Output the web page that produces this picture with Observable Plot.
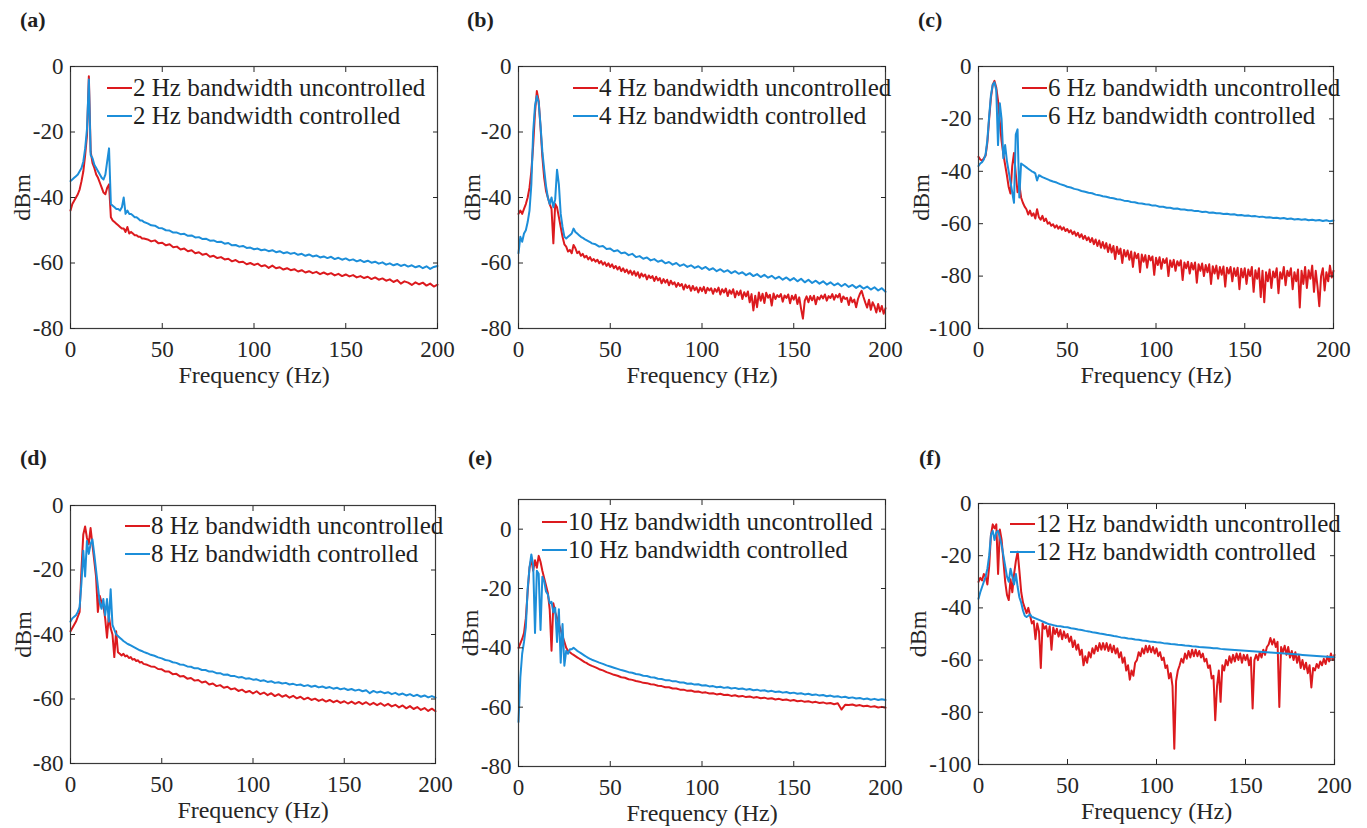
<!DOCTYPE html>
<html>
<head>
<meta charset="utf-8">
<script src="https://cdn.jsdelivr.net/npm/d3@7"></script>
<script src="https://cdn.jsdelivr.net/npm/@observablehq/plot@0.6"></script>
<style>
  body { margin: 0; background: #fff; }
  #fig { position: relative; width: 1367px; height: 828px; overflow: hidden; background: #fff;
         font-family: "Liberation Serif", "Times New Roman", serif; color: #1f1f1f; }
  .tag { position: absolute; font-weight: bold; font-size: 22px; line-height: 22px; }
  .legend { position: absolute; font-size: 25px; }
  .legend .row { display: flex; align-items: center; height: 28px; white-space: nowrap; }
  .legend .sw { display: inline-block; width: 25px; height: 0; border-top: 2.5px solid; margin-right: 1px; }
</style>
</head>
<body>
<div id="fig"></div>
<script>
// ---------- frequency grids (Hz) ----------
const freqLow = [0,1,2,3,4,5,6,7,8,9,10,11,12,13,14,15,16,17,18,19,20,21,22,23,24,25,26,27,28,29,30,31,32,33,34,35,36,37,38,39,40];
const freqTail2 = [42,44,46,48,50,52,54,56,58,60,62,64,66,68,70,72,74,76,78,80,82,84,86,88,90,92,94,96,98,100,102,104,106,108,110,112,114,116,118,120,122,124,126,128,130,132,134,136,138,140,142,144,146,148,150,152,154,156,158,160,162,164,166,168,170,172,174,176,178,180,182,184,186,188,190,192,194,196,198,200];
const freqTail1 = [41,42,43,44,45,46,47,48,49,50,51,52,53,54,55,56,57,58,59,60,61,62,63,64,65,66,67,68,69,70,71,72,73,74,75,76,77,78,79,80,81,82,83,84,85,86,87,88,89,90,91,92,93,94,95,96,97,98,99,100,101,102,103,104,105,106,107,108,109,110,111,112,113,114,115,116,117,118,119,120,121,122,123,124,125,126,127,128,129,130,131,132,133,134,135,136,137,138,139,140,141,142,143,144,145,146,147,148,149,150,151,152,153,154,155,156,157,158,159,160,161,162,163,164,165,166,167,168,169,170,171,172,173,174,175,176,177,178,179,180,181,182,183,184,185,186,187,188,189,190,191,192,193,194,195,196,197,198,199,200];

const xTicks = [0, 50, 100, 150, 200];
const yTicks80 = [-80, -60, -40, -20, 0];
const yTicks100 = [-100, -80, -60, -40, -20, 0];

// ---------- (a) 2 Hz bandwidth ----------
const aRedLow = [-44,-42,-41,-40,-39,-37.5,-35,-32,-27,-21,-3,-26,-29.5,-31,-33,-34,-35.5,-37,-38.5,-39,-37,-36,-46,-47,-47.5,-48,-48.5,-49,-49.5,-49.5,-50.5,-49,-51,-50.5,-51,-51.5,-51.5,-52,-52,-52.5,-52.5];
const aRedTail = [-52.8,-53.4,-53.1,-54.0,-53.8,-54.6,-54.3,-55.2,-55.0,-55.9,-55.6,-56.4,-56.1,-57.0,-56.7,-57.5,-57.2,-58.1,-57.8,-58.5,-58.2,-58.9,-58.7,-59.5,-59.1,-59.8,-59.6,-60.4,-60.0,-60.6,-60.2,-61.0,-60.7,-61.5,-60.8,-61.6,-61.3,-62.0,-61.6,-62.2,-61.9,-62.6,-62.2,-62.9,-62.5,-63.1,-62.7,-63.4,-62.9,-63.5,-63.1,-63.8,-63.3,-64.0,-63.5,-64.1,-63.7,-64.4,-64.0,-64.6,-64.2,-64.9,-64.4,-65.1,-64.7,-65.4,-65.0,-65.8,-65.2,-66.3,-65.6,-66.0,-66.7,-65.9,-66.5,-66.0,-66.9,-66.3,-67.2,-66.6];
const aBlueLow = [-35,-34.5,-34,-33.5,-33,-32,-31,-29,-25,-19,-4,-27,-28,-30,-31,-32,-33,-34,-34.5,-33,-29,-25,-42,-42.5,-43,-43.5,-43.5,-44,-43,-40,-45,-44,-45,-45,-45.5,-46,-46,-46.5,-47,-47,-47.5];
const aBlueTail = [-47.9,-48.5,-48.6,-49.3,-49.4,-50.0,-50.1,-50.7,-50.7,-51.2,-51.1,-51.7,-51.6,-52.2,-52.1,-52.7,-52.6,-53.2,-53.1,-53.6,-53.5,-54.1,-53.9,-54.6,-54.5,-55.0,-54.8,-55.4,-55.3,-55.8,-55.6,-56.1,-55.9,-56.4,-56.1,-56.7,-56.4,-57.0,-56.7,-57.2,-56.9,-57.5,-57.2,-57.8,-57.4,-58.0,-57.7,-58.3,-58.0,-58.5,-58.1,-58.8,-58.4,-59.0,-58.6,-59.2,-58.9,-59.5,-59.1,-59.7,-59.3,-59.9,-59.6,-60.2,-59.8,-60.5,-60.1,-60.7,-60.3,-60.9,-60.5,-61.1,-60.7,-61.3,-60.9,-61.6,-61.0,-61.8,-61.2,-60.9];

// ---------- (b) 4 Hz bandwidth ----------
const bRedLow = [-45,-44,-45,-43.5,-42,-40,-37,-32,-24,-14,-7.5,-10.5,-18.5,-27.5,-34,-38,-40,-42,-43.5,-54,-42,-43,-46,-49,-52,-54.3,-55,-56.5,-56,-57,-54.5,-55.5,-57,-56.5,-57.8,-57.2,-58.3,-57.8,-58.9,-58.2,-59.3];
const bRedTail = [-58.8,-59.6,-59.0,-60.1,-59.4,-60.5,-59.8,-60.9,-60.1,-61.2,-60.4,-61.6,-60.9,-62.0,-61.2,-62.5,-61.6,-62.8,-62.0,-63.2,-62.3,-63.6,-62.5,-63.9,-62.8,-64.5,-63.2,-64.1,-63.5,-65.0,-63.8,-64.6,-64.0,-65.5,-64.2,-65.3,-64.6,-66.2,-64.9,-66.0,-65.1,-66.8,-65.4,-66.5,-65.9,-67.3,-66.1,-67.0,-66.4,-68.1,-66.6,-67.6,-66.9,-68.5,-67.0,-68.3,-67.4,-69.0,-67.5,-68.6,-67.3,-69.2,-67.6,-68.4,-67.7,-69.4,-67.9,-68.8,-67.5,-69.6,-68.0,-69.0,-67.8,-70.1,-68.3,-69.4,-68.0,-70.5,-68.6,-69.8,-68.4,-71.0,-68.9,-70.2,-68.7,-72.0,-69.5,-74.5,-70.0,-73.5,-69.0,-71.5,-69.4,-72.2,-69.1,-70.6,-69.7,-73.0,-69.3,-71.0,-69.8,-70.4,-69.5,-71.8,-69.9,-70.7,-69.6,-72.3,-70.0,-71.2,-69.7,-72.5,-70.5,-74.0,-77.0,-71.5,-70.2,-72.0,-70.1,-71.4,-70.0,-72.6,-70.4,-71.1,-69.9,-70.8,-69.6,-71.5,-70.1,-70.7,-69.5,-71.2,-69.8,-70.5,-69.4,-71.9,-70.2,-71.0,-70.6,-72.8,-70.5,-72.0,-71.2,-73.5,-71.0,-69.5,-68.5,-70.4,-72.1,-73.6,-71.2,-74.3,-72.0,-73.2,-75.1,-72.5,-74.8,-73.1,-75.5,-73.8];
const bBlueLow = [-57,-52,-53.5,-51,-50,-47.5,-44,-36,-20,-12,-9,-11,-18,-26,-31.5,-36.5,-40,-42,-40,-43,-40.5,-31.5,-36,-45,-49,-52,-52.5,-52,-51.5,-51,-49.5,-50.5,-51,-51.5,-52,-52.3,-52.7,-53,-53.3,-53.6,-54];
const bBlueTail = [-54.3,-55.0,-54.8,-55.7,-55.6,-56.4,-56.1,-57.0,-56.8,-57.6,-57.2,-58.2,-57.9,-58.7,-58.3,-59.2,-58.8,-59.6,-59.2,-60.1,-59.7,-60.5,-60.0,-60.9,-60.4,-61.2,-60.7,-61.5,-61.0,-61.8,-61.2,-62.1,-61.6,-62.5,-61.9,-62.7,-62.2,-63.1,-62.5,-63.3,-62.8,-63.7,-63.1,-64.0,-63.4,-64.3,-63.6,-64.5,-63.9,-64.8,-64.2,-65.1,-64.4,-65.3,-64.6,-65.6,-64.8,-65.9,-65.1,-66.1,-65.4,-66.3,-65.6,-66.6,-65.9,-66.8,-66.2,-67.1,-66.4,-67.3,-66.7,-67.6,-66.9,-67.8,-67.2,-68.1,-67.4,-68.4,-67.7,-68.8];

// ---------- (c) 6 Hz bandwidth ----------
const cRedLow = [-34.5,-35.5,-36,-35,-34,-29,-20,-12,-7,-5.5,-8,-13,-21,-28.5,-33.5,-37.5,-41.5,-46,-48.5,-38,-33,-41,-48,-45,-50,-52,-53.5,-54.5,-56.5,-55,-57,-56,-58,-54.5,-57.5,-58.5,-57,-59,-58,-60,-59.5];
const cRedTail = [-60.8,-60.2,-61.5,-60.6,-61.9,-61.0,-62.3,-61.4,-62.8,-62.0,-63.3,-62.5,-64.0,-63.0,-64.6,-63.5,-65.2,-64.0,-65.8,-64.6,-66.3,-65.2,-67.0,-65.5,-67.8,-66.0,-68.5,-66.4,-69.2,-67.0,-69.5,-67.4,-70.8,-67.9,-71.0,-68.5,-73.5,-68.8,-71.6,-69.5,-75.0,-70.0,-72.5,-70.2,-73.8,-70.6,-76.5,-71.0,-73.2,-71.5,-78.5,-71.8,-74.5,-72.0,-76.8,-72.2,-74.0,-72.5,-79.5,-73.0,-75.8,-72.8,-77.2,-73.5,-75.0,-73.2,-80.0,-74.0,-76.5,-73.8,-78.0,-74.3,-76.0,-74.0,-81.5,-74.8,-77.0,-74.5,-79.0,-75.0,-77.5,-74.8,-82.5,-75.5,-78.0,-75.2,-80.0,-75.8,-78.5,-75.5,-83.0,-76.2,-79.0,-76.0,-81.0,-76.5,-79.5,-76.3,-84.0,-76.8,-79.0,-76.5,-82.0,-77.0,-80.0,-76.8,-85.0,-77.2,-80.5,-77.0,-83.0,-77.5,-80.0,-76.5,-86.0,-77.8,-81.0,-77.0,-88.0,-78.0,-90.0,-78.5,-82.0,-77.5,-84.5,-78.2,-80.5,-77.0,-86.5,-78.5,-81.0,-76.5,-83.5,-78.0,-80.0,-77.0,-85.0,-78.5,-82.0,-77.5,-92.0,-78.0,-83.0,-76.5,-84.5,-77.8,-81.0,-76.0,-86.0,-78.0,-84.0,-91.5,-80.0,-77.0,-85.5,-78.5,-82.0,-76.0,-80.5,-78.0];
const cBlueLow = [-38,-37,-36.5,-35.5,-33.5,-28,-19,-11,-7,-6,-9,-30,-14,-20,-35,-30,-36,-40,-44,-48,-52,-26,-24,-50,-37,-37.5,-38,-38.5,-39,-39.5,-40,-40.3,-40.8,-43.5,-41.5,-41.8,-42.2,-42.5,-42.8,-43.1,-43.4];
const cBlueTail = [-43.9,-44.3,-44.9,-45.3,-45.9,-46.2,-46.7,-47.0,-47.5,-47.8,-48.2,-48.4,-48.9,-49.1,-49.5,-49.7,-50.1,-50.3,-50.7,-50.8,-51.2,-51.3,-51.7,-51.8,-52.2,-52.3,-52.6,-52.7,-53.1,-53.1,-53.5,-53.5,-53.9,-53.9,-54.3,-54.2,-54.6,-54.6,-54.9,-54.9,-55.2,-55.2,-55.5,-55.4,-55.8,-55.7,-56.0,-56.0,-56.3,-56.2,-56.5,-56.4,-56.8,-56.7,-57.0,-56.9,-57.2,-57.1,-57.4,-57.3,-57.6,-57.5,-57.8,-57.7,-58.0,-57.8,-58.2,-58.0,-58.4,-58.2,-58.5,-58.3,-58.7,-58.5,-58.8,-58.6,-59.0,-58.7,-59.1,-58.8];

// ---------- (d) 8 Hz bandwidth ----------
const dRedLow = [-39,-38,-37,-36,-34.5,-33,-20,-9,-6.5,-10,-12,-7,-12,-17,-22,-33,-28,-30,-31,-35,-41,-34,-38,-40,-47,-39,-45.5,-46,-46.5,-46,-46.8,-46.5,-47.3,-47,-47.8,-47.6,-48.2,-48,-48.7,-48.5,-49.1];
const dRedTail = [-49.4,-49.9,-50.0,-50.7,-50.8,-51.5,-51.5,-52.3,-52.2,-53.0,-52.9,-53.7,-53.5,-54.3,-54.1,-54.9,-54.6,-55.5,-55.2,-56.0,-55.7,-56.5,-56.2,-57.0,-56.7,-57.5,-57.1,-57.9,-57.5,-58.3,-57.6,-58.5,-58.0,-58.8,-58.2,-59.1,-58.5,-59.3,-58.8,-59.6,-59.0,-59.8,-59.3,-60.1,-59.6,-60.3,-59.9,-60.6,-60.1,-60.8,-60.3,-61.0,-60.5,-61.2,-60.7,-61.4,-60.8,-61.5,-60.9,-61.6,-61.0,-61.8,-61.2,-61.9,-61.3,-62.1,-61.5,-62.3,-61.8,-62.6,-62.0,-62.9,-62.2,-63.1,-62.5,-63.4,-62.8,-63.7,-63.0,-63.8];
const dBlueLow = [-36,-35,-34.5,-34,-33,-31.5,-24,-14,-22,-11,-15,-12,-10.5,-15,-20,-25,-30,-32,-29,-34,-29,-36,-26,-37,-38.5,-40,-40.5,-41,-41.5,-42,-42.4,-42.8,-43.1,-43.4,-43.7,-44,-44.3,-44.6,-44.9,-45.1,-45.4];
const dBlueTail = [-45.8,-46.3,-46.6,-47.1,-47.4,-47.9,-48.1,-48.6,-48.8,-49.3,-49.4,-49.9,-50.0,-50.5,-50.5,-51.0,-51.0,-51.5,-51.5,-52.0,-52.0,-52.5,-52.4,-52.9,-52.9,-53.3,-53.2,-53.7,-53.6,-54.0,-53.9,-54.4,-54.2,-54.7,-54.5,-55.0,-54.8,-55.2,-55.0,-55.5,-55.3,-55.7,-55.5,-56.0,-55.7,-56.2,-55.9,-56.4,-56.1,-56.6,-56.3,-56.8,-56.5,-57.0,-56.7,-57.2,-56.9,-57.4,-57.1,-57.6,-57.3,-58.2,-57.5,-58.0,-57.7,-58.2,-57.9,-58.5,-58.1,-58.7,-58.3,-58.9,-58.5,-59.1,-58.7,-59.3,-58.9,-59.5,-59.1,-59.6];

// ---------- (e) 10 Hz bandwidth ----------
const eRedLow = [-40,-38.5,-37,-35,-30,-21,-13,-10,-14,-10.5,-13,-9,-11,-14,-16.5,-19,-21.5,-27,-41,-25,-28,-30,-32,-34,-36,-38,-40,-41,-41.5,-42,-42.4,-42.8,-43.2,-43.6,-44,-44.4,-44.8,-45.1,-45.5,-45.8,-46.1];
const eRedTail = [-46.6,-47.2,-47.6,-48.2,-48.6,-49.1,-49.4,-49.9,-50.1,-50.6,-50.8,-51.2,-51.4,-51.8,-51.9,-52.3,-52.4,-52.8,-52.9,-53.3,-53.3,-53.7,-53.7,-54.1,-54.1,-54.5,-54.4,-54.8,-54.7,-55.1,-55.0,-55.4,-55.3,-55.7,-55.5,-55.9,-55.8,-56.2,-56.0,-56.4,-56.2,-56.6,-56.4,-56.8,-56.6,-57.0,-56.8,-57.2,-57.0,-57.4,-57.2,-57.6,-57.4,-57.8,-57.6,-58.0,-57.8,-58.2,-58.0,-58.4,-58.2,-58.6,-58.4,-58.8,-58.6,-59.0,-58.7,-60.8,-59.2,-59.3,-59.1,-59.5,-59.3,-59.7,-59.5,-59.9,-59.7,-60.1,-59.9,-60.2];
const eBlueLow = [-65,-50,-42,-38,-33,-20,-13,-8.5,-12,-35,-14,-15,-34,-16,-17.5,-21,-22,-25,-24.5,-28,-26.5,-38,-27,-45,-32,-46,-41,-42,-40.5,-40.5,-40,-40.5,-41,-41.4,-41.8,-42.2,-42.6,-43,-43.4,-43.7,-44];
const eBlueTail = [-44.5,-45.0,-45.4,-45.9,-46.3,-46.7,-47.1,-47.5,-47.8,-48.2,-48.4,-48.8,-49.0,-49.4,-49.5,-49.9,-50.0,-50.4,-50.5,-50.9,-50.9,-51.3,-51.3,-51.7,-51.7,-52.1,-52.0,-52.4,-52.3,-52.7,-52.6,-53.0,-52.9,-53.3,-53.1,-53.5,-53.3,-53.7,-53.5,-53.9,-53.7,-54.1,-53.9,-54.3,-54.1,-54.5,-54.3,-54.7,-54.5,-54.9,-54.7,-55.1,-54.9,-55.3,-55.1,-55.5,-55.3,-55.7,-55.5,-55.9,-55.7,-56.1,-55.9,-56.3,-56.1,-56.5,-56.3,-56.7,-56.5,-56.9,-56.7,-57.1,-56.9,-57.3,-57.1,-57.5,-57.2,-57.6,-57.3,-57.6];

// ---------- (f) 12 Hz bandwidth ----------
const fRedLow = [-30,-28.5,-29.5,-27,-28,-31,-24,-12,-8,-9.5,-8,-27,-10,-14,-22,-30,-35,-37,-29,-34,-27,-22,-18.5,-26,-34,-38,-40,-42,-40,-43,-46,-45,-52,-46,-49,-63,-46,-48,-47,-51,-47];
const fRedTail = [-56,-47.5,-50,-48,-51,-48.5,-52,-49,-51.5,-50,-53,-51,-55,-52.5,-56,-54,-58,-56,-62,-58.5,-61,-57,-59,-55.5,-57.5,-54.5,-56.5,-53.5,-56,-53.5,-56,-53.5,-56.5,-54,-57,-54.5,-57.5,-55.5,-59,-57,-61,-59,-64,-62,-67.5,-64,-66,-61,-60,-57,-58.5,-55.5,-57.5,-54.5,-57,-54.5,-57,-55,-57.5,-55.5,-58.5,-57,-60,-59,-63,-62,-67,-65,-70,-94,-68,-64,-62,-59.5,-61,-57.5,-59.5,-56.5,-59,-56,-58.5,-56,-58.5,-56.5,-59,-57.5,-60.5,-59.5,-63,-62,-67,-66,-83,-70,-64,-76,-62,-64,-60,-62,-58.5,-61,-58,-60.5,-57.5,-60,-57.5,-61,-58,-60,-58,-62,-59,-78.5,-60,-58,-60,-57,-59,-56,-58,-55,-54,-51.5,-54,-52,-55,-53,-78,-55,-57,-54.5,-58,-55,-59,-56.5,-60,-57,-61,-58,-63,-60,-63.5,-61,-65,-62,-70.5,-63,-64,-61.5,-63,-60.5,-62,-59.5,-61.5,-58.5,-60.5,-57.5,-60,-58];
const fBlueLow = [-36.5,-34,-32,-30,-28,-25,-20,-12,-10.5,-14,-11,-10.5,-13,-16,-20,-24,-28,-30,-25,-28,-31,-27,-32,-36,-38,-41,-43,-43.5,-43,-42.5,-43.5,-43.7,-44,-44.3,-44.6,-44.9,-45.2,-45.5,-45.8,-46.1,-46.3];
const fBlueTail = [-46.6,-46.9,-47.0,-47.3,-47.4,-47.8,-48.0,-48.3,-48.5,-48.8,-49.0,-49.3,-49.5,-49.8,-50.0,-50.3,-50.5,-50.8,-51.0,-51.3,-51.4,-51.7,-51.8,-52.1,-52.2,-52.5,-52.6,-52.9,-53.0,-53.2,-53.3,-53.5,-53.6,-53.8,-53.9,-54.1,-54.2,-54.4,-54.5,-54.7,-54.8,-55.0,-55.1,-55.2,-55.3,-55.5,-55.5,-55.7,-55.8,-55.9,-56.0,-56.1,-56.2,-56.3,-56.4,-56.5,-56.6,-56.7,-56.8,-56.9,-57.0,-57.1,-57.2,-57.3,-57.4,-57.5,-57.6,-57.7,-57.8,-57.9,-58.0,-58.1,-58.2,-58.3,-58.4,-58.5,-58.6,-58.7,-58.8,-58.9];

const RED = "#dc1a1e";
const BLUE = "#1c8ed9";

const panels = [
  {tag: "(a)", bw: "2", left: 0, top: 0, w: 455, h: 400, mL: 70, mR: 18, mT: 66, mB: 72, yDomain: [-80, 0], yTicks: yTicks80,
   redTailF: freqTail2, redLow: aRedLow, redTail: aRedTail, blueLow: aBlueLow, blueTail: aBlueTail,
   ylabDx: -48, tagX: 20, tagY: 9, legX: 107, legY: 74},
  {tag: "(b)", bw: "4", left: 455, top: 0, w: 455, h: 400, mL: 63, mR: 25, mT: 66, mB: 72, yDomain: [-80, 0], yTicks: yTicks80,
   redTailF: freqTail1, redLow: bRedLow, redTail: bRedTail, blueLow: bBlueLow, blueTail: bBlueTail,
   ylabDx: -46, tagX: 467, tagY: 9, legX: 573, legY: 74},
  {tag: "(c)", bw: "6", left: 910, top: 0, w: 457, h: 400, mL: 68, mR: 34, mT: 66, mB: 72, yDomain: [-100, 0], yTicks: yTicks100,
   redTailF: freqTail1, redLow: cRedLow, redTail: cRedTail, blueLow: cBlueLow, blueTail: cBlueTail,
   ylabDx: -57, tagX: 918, tagY: 9, legX: 1022, legY: 74},
  {tag: "(d)", bw: "8", left: 0, top: 420, w: 455, h: 408, mL: 70, mR: 20, mT: 85, mB: 65, yDomain: [-80, 0], yTicks: yTicks80,
   redTailF: freqTail2, redLow: dRedLow, redTail: dRedTail, blueLow: dBlueLow, blueTail: dBlueTail,
   ylabDx: -47, tagX: 20, tagY: 447, legX: 125, legY: 512},
  {tag: "(e)", bw: "10", left: 455, top: 420, w: 455, h: 408, mL: 63, mR: 25, mT: 79, mB: 62, yDomain: [-80, 10], yTicks: yTicks80,
   redTailF: freqTail2, redLow: eRedLow, redTail: eRedTail, blueLow: eBlueLow, blueTail: eBlueTail,
   ylabDx: -48, tagX: 468, tagY: 447, legX: 542, legY: 508},
  {tag: "(f)", bw: "12", left: 910, top: 420, w: 457, h: 408, mL: 68, mR: 33, mT: 83, mB: 64, yDomain: [-100, 0], yTicks: yTicks100,
   redTailF: freqTail1, redLow: fRedLow, redTail: fRedTail, blueLow: fBlueLow, blueTail: fBlueTail,
   ylabDx: -60, tagX: 919, tagY: 447, legX: 1010, legY: 510}
];

function series(fa, va, fb, vb) {
  const f = fa.concat(fb), v = va.concat(vb);
  return f.map((x, i) => ({f: x, v: v[i]}));
}

const fig = document.getElementById("fig");
const fmt = d => String(d);

for (const p of panels) {
  const red = series(freqLow, p.redLow, p.redTailF, p.redTail);
  const blue = series(freqLow, p.blueLow, freqTail2, p.blueTail);
  const chart = Plot.plot({
    width: p.w, height: p.h,
    marginLeft: p.mL, marginRight: p.mR, marginTop: p.mT, marginBottom: p.mB,
    style: {fontFamily: '"Liberation Serif", "Times New Roman", serif', fontSize: "23px", color: "#262626", background: "transparent", overflow: "visible"},
    x: {domain: [0, 200]},
    y: {domain: p.yDomain},
    marks: [
      Plot.line(red, {x: "f", y: "v", stroke: RED, strokeWidth: 2}),
      Plot.line(blue, {x: "f", y: "v", stroke: BLUE, strokeWidth: 2}),
      Plot.frame({stroke: "#3a3a3a", strokeWidth: 1.2}),
      Plot.axisX({anchor: "bottom", ticks: xTicks, tickSize: -5, tickPadding: 17, tickFormat: fmt, label: null}),
      Plot.axisX({anchor: "top", ticks: xTicks, tickSize: -5, tickFormat: () => "", label: null}),
      Plot.axisY({anchor: "left", ticks: p.yTicks, tickSize: -5, tickPadding: 12, tickFormat: fmt, label: null}),
      Plot.axisY({anchor: "right", ticks: p.yTicks, tickSize: -5, tickFormat: () => "", label: null}),
      Plot.text(["Frequency (Hz)"], {text: d => d, frameAnchor: "bottom", lineAnchor: "middle", textAnchor: "middle", dy: 47, fontSize: 24}),
      Plot.text(["dBm"], {text: d => d, frameAnchor: "left", lineAnchor: "middle", textAnchor: "middle", dx: p.ylabDx, rotate: -90, fontSize: 24})
    ]
  });
  chart.style.position = "absolute";
  chart.style.left = p.left + "px";
  chart.style.top = p.top + "px";
  fig.appendChild(chart);

  const tag = document.createElement("div");
  tag.className = "tag";
  tag.textContent = p.tag;
  tag.style.left = p.tagX + "px";
  tag.style.top = p.tagY + "px";
  fig.appendChild(tag);

  const leg = document.createElement("div");
  leg.className = "legend";
  leg.style.left = p.legX + "px";
  leg.style.top = p.legY + "px";
  for (const [label, color] of [[p.bw + " Hz bandwidth uncontrolled", RED], [p.bw + " Hz bandwidth controlled", BLUE]]) {
    const row = document.createElement("div");
    row.className = "row";
    const sw = document.createElement("span");
    sw.className = "sw";
    sw.style.borderTopColor = color;
    const t = document.createElement("span");
    t.textContent = label;
    row.appendChild(sw);
    row.appendChild(t);
    leg.appendChild(row);
  }
  fig.appendChild(leg);
}
</script>
</body>
</html>
